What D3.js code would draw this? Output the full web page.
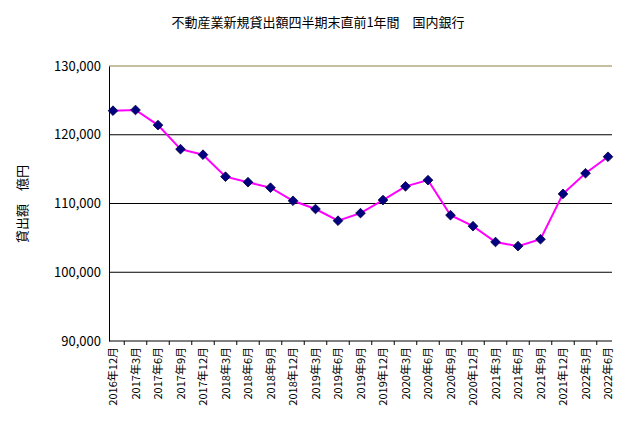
<!DOCTYPE html>
<html><head><meta charset="utf-8">
<script src="https://cdn.jsdelivr.net/npm/d3@7"></script>
<style>body{margin:0;background:#fff}text{font-family:"Noto Sans CJK JP","DejaVu Sans",sans-serif}</style>
</head><body><svg id="c" width="636" height="436"></svg>
<script>
// 四半期末ラベル
var categories = ["2016年12月","2017年3月","2017年6月","2017年9月","2017年12月","2018年3月","2018年6月","2018年9月","2018年12月",
  "2019年3月","2019年6月","2019年9月","2019年12月","2020年3月","2020年6月","2020年9月","2020年12月",
  "2021年3月","2021年6月","2021年9月","2021年12月","2022年3月","2022年6月"];
// 貸出額（億円）
var values = [123500,123600,121400,117900,117100,113900,113100,112300,110400,109200,107500,108600,110500,
  112500,113400,108300,106700,104400,103800,104800,111400,114400,116800];
var yTicks = [90000,100000,110000,120000,130000];

var svg = d3.select("#c");
var pLeft = 109, pRight = 612, pTop = 66, pBottom = 341;

var x = d3.scalePoint().domain(categories).range([pLeft + 4, pRight - 4]);
var y = d3.scaleLinear().domain([90000, 130000]).range([pBottom, pTop]);

svg.append("text").attr("x", 318).attr("y", 27).attr("text-anchor", "middle")
  .attr("font-size", 13).text("不動産業新規貸出額四半期末直前1年間　国内銀行");

// grid
svg.selectAll(".grid").data([100000,110000,120000]).enter().append("line")
  .attr("x1", pLeft).attr("x2", pRight).attr("y1", d => y(d)).attr("y2", d => y(d))
  .attr("stroke", "#000");
svg.append("line").attr("x1", pLeft).attr("x2", pRight).attr("y1", pTop).attr("y2", pTop)
  .attr("stroke", "#8a8040");

// y axis
var yAxis = svg.append("g").attr("transform", "translate(" + pLeft + ",0)")
  .call(d3.axisLeft(y).tickValues(yTicks).tickSize(0).tickPadding(8).tickFormat(d3.format(",")));
yAxis.select(".domain").attr("stroke", "#000");
yAxis.selectAll("text").attr("font-size", 13).attr("font-family", "Liberation Sans, Arial, sans-serif");

// x axis with ticks between categories
var step = x.step();
svg.append("line").attr("x1", pLeft).attr("x2", pRight).attr("y1", pBottom).attr("y2", pBottom).attr("stroke", "#000");
svg.selectAll(".xt").data(categories.slice(0, -1)).enter().append("line")
  .attr("x1", d => x(d) + step / 2).attr("x2", d => x(d) + step / 2)
  .attr("y1", pBottom).attr("y2", pBottom + 4).attr("stroke", "#000");
svg.selectAll(".xl").data(categories).enter().append("text")
  .attr("transform", d => "translate(" + (x(d) + 4) + "," + (pBottom + 6) + ") rotate(-90)")
  .attr("text-anchor", "end").attr("font-size", 11).text(d => d);

svg.append("text").attr("transform", "translate(27,204) rotate(-90)").attr("text-anchor", "middle")
  .attr("font-size", 13).text("貸出額　億円");

var line = d3.line().x((d, i) => x(categories[i])).y(d => y(d));
svg.append("path").datum(values).attr("d", line).attr("fill", "none")
  .attr("stroke", "#ff00ff").attr("stroke-width", 2);

svg.selectAll(".pt").data(values).enter().append("path")
  .attr("d", d3.symbol(d3.symbolDiamond2, 60))
  .attr("transform", (d, i) => "translate(" + x(categories[i]) + "," + y(d) + ")")
  .attr("fill", "#000080").attr("stroke", "#000040").attr("stroke-width", 0.8);
</script></body></html>
